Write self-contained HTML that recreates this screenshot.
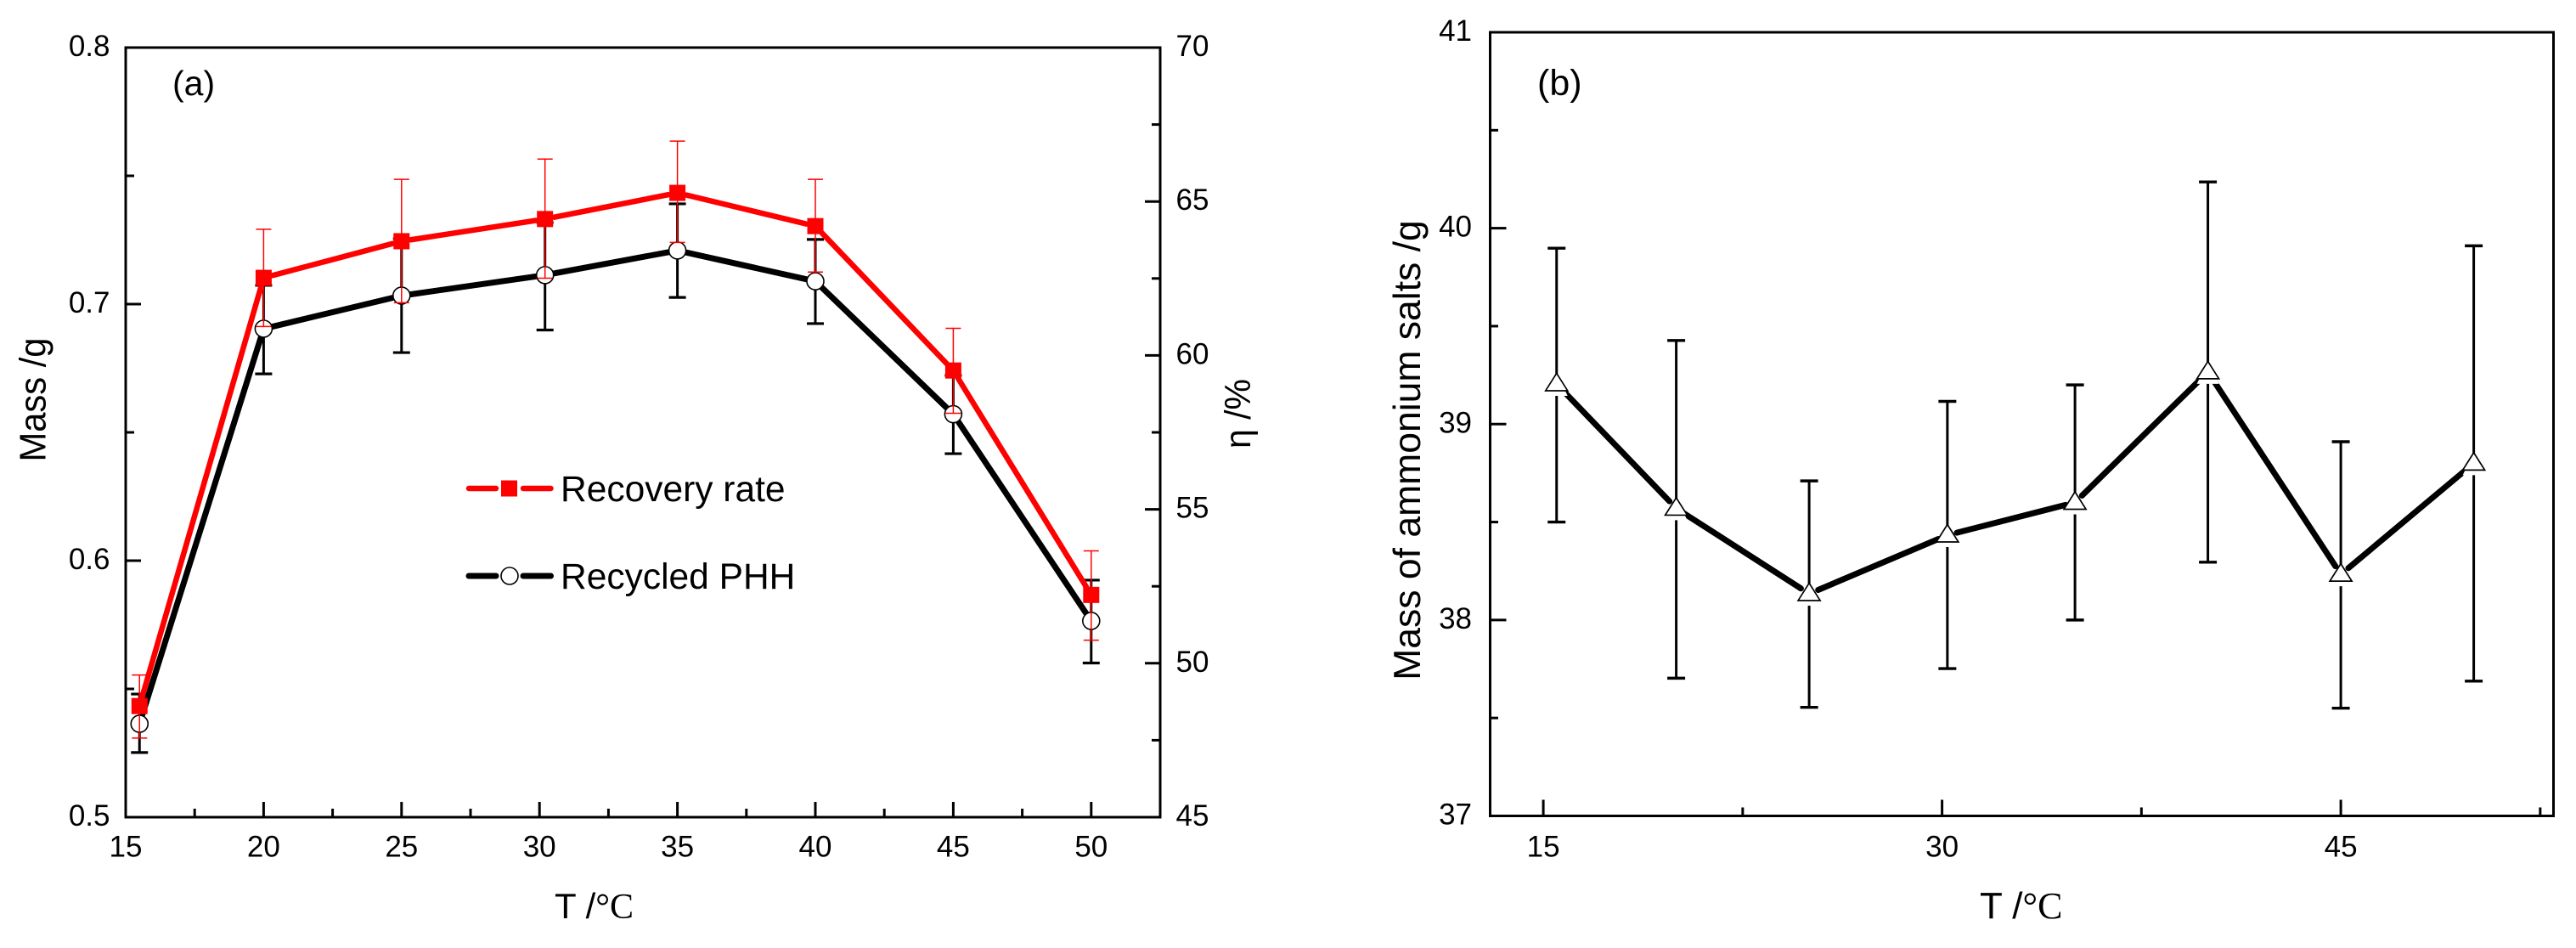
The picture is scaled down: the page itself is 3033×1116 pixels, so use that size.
<!DOCTYPE html>
<html lang="en">
<head>
<meta charset="utf-8">
<title>Recovery rate, recycled PHH and ammonium salts vs temperature</title>
<style>
  html, body { margin: 0; padding: 0; background: #fff; }
  svg { display: block; font-family: "Liberation Sans", sans-serif; fill: #000; }
</style>
</head>
<body>
<svg id="figure" xmlns="http://www.w3.org/2000/svg" width="3033" height="1116" viewBox="0 0 3033 1116">
  <rect x="0" y="0" width="3033" height="1116" fill="#fff"/>

  <g id="panel-a"></g>
  <g id="panel-b"></g>

  <text x="203" y="112" font-size="41">(a)</text>
  <text transform="translate(53.5 470.5) rotate(-90)" text-anchor="middle" font-size="44" textLength="146" lengthAdjust="spacingAndGlyphs">Mass /g</text>
  <text transform="translate(1472 487) rotate(-90)" text-anchor="middle" font-size="43" textLength="82" lengthAdjust="spacingAndGlyphs">η /%</text>
  <text x="653" y="1081" font-size="42">T /<tspan font-family="'Liberation Serif', serif">°C</tspan></text>

  <g>
    <g>
      <line x1="552" y1="575" x2="584" y2="575" stroke="#f00" stroke-width="6.5" stroke-linecap="round"/>
      <line x1="616" y1="575" x2="648.5" y2="575" stroke="#f00" stroke-width="6.5" stroke-linecap="round"/>
      <rect x="590" y="565.5" width="19" height="19" fill="#f00"/>
      <text x="660" y="590" font-size="42.5">Recovery rate</text>
    </g>
    <g>
      <line x1="552" y1="678" x2="584" y2="678" stroke="#000" stroke-width="7" stroke-linecap="round"/>
      <line x1="616" y1="678" x2="648.5" y2="678" stroke="#000" stroke-width="7" stroke-linecap="round"/>
      <circle cx="600" cy="678" r="10" fill="#fff" stroke="#000" stroke-width="1.6"/>
      <text x="660" y="693" font-size="42.5">Recycled PHH</text>
    </g>
  </g>

  <text x="1810" y="112" font-size="43">(b)</text>
  <text transform="translate(1672 530) rotate(-90)" text-anchor="middle" font-size="44.5">Mass of ammonium salts /g</text>
  <text x="2331" y="1081" font-size="44">T /<tspan font-family="'Liberation Serif', serif">°C</tspan></text>
</svg>

<script>
// ---- Panel (a) data ----
const aTemps = [15.5, 20, 25, 30.2, 35, 40, 45, 50];
const recoveryRate = [48.61, 62.52, 63.71, 64.43, 65.28, 64.2, 59.51, 52.22];
const recoveryUpper = [49.62, 64.1, 65.72, 66.38, 66.96, 65.72, 60.88, 53.65];
const recoveryLower = [47.57, 60.94, 61.71, 62.51, 63.67, 62.71, 58.12, 50.75];
const recycledMass = [0.5364, 0.6904, 0.7033, 0.7113, 0.7209, 0.7089, 0.6571, 0.5765];
const recycledUpper = [0.548, 0.7073, 0.7255, 0.7318, 0.7391, 0.7252, 0.6722, 0.5924];
const recycledLower = [0.5252, 0.6728, 0.6811, 0.6899, 0.7026, 0.6924, 0.6417, 0.5601];
const aXMajor = [15, 20, 25, 30, 35, 40, 45, 50];
const aXMajorLabels = ['15', '20', '25', '30', '35', '40', '45', '50'];
const aXMinor = [17.5, 22.5, 27.5, 32.5, 37.5, 42.5, 47.5];
const aMassMajor = [0.5, 0.6, 0.7, 0.8];
const aMassLabels = ['0.5', '0.6', '0.7', '0.8'];
const aMassMinor = [0.55, 0.65, 0.75];
const aEtaMajor = [45, 50, 55, 60, 65, 70];
const aEtaLabels = ['45', '50', '55', '60', '65', '70'];
const aEtaMinor = [47.5, 52.5, 57.5, 62.5, 67.5];

// ---- Panel (b) data ----
const bTemps = [15.5, 20, 25, 30.2, 35, 40, 45, 50];
const ammoniumMass = [39.205, 38.57, 38.134, 38.433, 38.6, 39.266, 38.233, 38.8];
const ammoniumUpper = [39.898, 39.427, 38.71, 39.116, 39.2, 40.236, 38.91, 39.91];
const ammoniumLower = [38.5, 37.703, 37.554, 37.752, 38.0, 38.295, 37.55, 37.688];
const bXMajor = [15, 30, 45];
const bXMajorLabels = ['15', '30', '45'];
const bXMinor = [22.5, 37.5, 52.5];
const bYMajor = [37, 38, 39, 40, 41];
const bYLabels = ['37', '38', '39', '40', '41'];
const bYMinor = [37.5, 38.5, 39.5, 40.5];

// ---- Axis functions ----
const aBox = { left: 148, right: 1366, top: 56, bottom: 962 };
const bBox = { left: 1754.5, right: 3006.5, top: 38, bottom: 960.5 };
function xA(v) { return aBox.left + (v - 15) * (aBox.right - aBox.left) / 37.5; }
function yMass(v) { return aBox.bottom - (v - 0.5) * (aBox.bottom - aBox.top) / 0.3; }
function yEta(v) { return aBox.bottom - (v - 45) * (aBox.bottom - aBox.top) / 25; }
function xB(v) { return bBox.left + (v - 13) * (bBox.right - bBox.left) / 40; }
function yB(v) { return bBox.bottom - (v - 37) * (bBox.bottom - bBox.top) / 4; }

const NS = 'http://www.w3.org/2000/svg';
function shape(parent, tag, attrs, text) {
  const node = document.createElementNS(NS, tag);
  for (const key in attrs) node.setAttribute(key, attrs[key]);
  if (text !== undefined) node.textContent = text;
  parent.appendChild(node);
  return node;
}
function trimmed(x1, y1, x2, y2, gap) {
  const d = Math.hypot(x2 - x1, y2 - y1);
  const ux = (x2 - x1) / d, uy = (y2 - y1) / d;
  return { x1: x1 + ux * gap, y1: y1 + uy * gap, x2: x2 - ux * gap, y2: y2 - uy * gap };
}

function drawFrame(parent, box, prefix) {
  const el = shape(parent, 'rect', { x: box.left, y: box.top, width: box.right - box.left, height: box.bottom - box.top, fill: 'none', stroke: '#000', 'stroke-width': 3 });
  
  
}
function drawXTicks(parent, box, scale, values, len, prefix) {
  values.forEach(function (v) {
    const el = shape(parent, 'line', { x1: scale(v), x2: scale(v), y1: box.bottom, y2: box.bottom - len, stroke: '#000', 'stroke-width': 3 });
    
    
  });
}
function drawXLabels(parent, scale, values, labels, prefix) {
  values.forEach(function (v, i) {
    const el = shape(parent, 'text', { x: scale(v), y: 1008.5, 'text-anchor': 'middle', 'font-size': 35 }, labels[i]);
    
    
  });
}
function drawYTicks(parent, x, dir, scale, values, len, prefix) {
  values.forEach(function (v) {
    const el = shape(parent, 'line', { x1: x, x2: x + dir * len, y1: scale(v), y2: scale(v), stroke: '#000', 'stroke-width': 3 });
    
    
  });
}
function drawYLabels(parent, x, anchor, scale, values, labels, prefix) {
  values.forEach(function (v, i) {
    const el = shape(parent, 'text', { x: x, y: scale(v) + 10, 'text-anchor': anchor, 'font-size': 35 }, labels[i]);
    
    
  });
}
function drawErrors(parent, xs, upper, lower, sx, sy, color, width, capHalf, capWidth, prefix) {
  xs.forEach(function (t, i) {
    const x = sx(t), yu = sy(upper[i]), yl = sy(lower[i]);
    const stem = shape(parent, 'line', { x1: x, x2: x, y1: yu, y2: yl, stroke: color, 'stroke-width': width });
    
    
    const top = shape(parent, 'line', { x1: x - capHalf, x2: x + capHalf, y1: yu, y2: yu, stroke: color, 'stroke-width': capWidth });
    
    
    const bottom = shape(parent, 'line', { x1: x - capHalf, x2: x + capHalf, y1: yl, y2: yl, stroke: color, 'stroke-width': capWidth });
    
    
  });
}
function drawSegments(parent, xs, values, sx, sy, color, width, gap, prefix) {
  for (let i = 0; i < xs.length - 1; i++) {
    const s = trimmed(sx(xs[i]), sy(values[i]), sx(xs[i + 1]), sy(values[i + 1]), gap);
    const el = shape(parent, 'line', { x1: s.x1, y1: s.y1, x2: s.x2, y2: s.y2, stroke: color, 'stroke-width': width, 'stroke-linecap': 'round' });
    
    
  }
}

// ---- Panel (a) ----
const panelA = document.getElementById('panel-a');
drawFrame(panelA, aBox, 'panel-a');
drawXTicks(panelA, aBox, xA, aXMajor, 18, 'panel-a-major');
drawXTicks(panelA, aBox, xA, aXMinor, 10, 'panel-a-minor');
drawXLabels(panelA, xA, aXMajor, aXMajorLabels, 'panel-a');
drawYTicks(panelA, aBox.left, 1, yMass, aMassMajor, 18, 'panel-a-left-major');
drawYTicks(panelA, aBox.left, 1, yMass, aMassMinor, 10, 'panel-a-left-minor');
drawYLabels(panelA, 129.5, 'end', yMass, aMassMajor, aMassLabels, 'panel-a-left');
drawYTicks(panelA, aBox.right, -1, yEta, aEtaMajor, 18, 'panel-a-right-major');
drawYTicks(panelA, aBox.right, -1, yEta, aEtaMinor, 10, 'panel-a-right-minor');
drawYLabels(panelA, 1384.5, 'start', yEta, aEtaMajor, aEtaLabels, 'panel-a-right');

drawErrors(panelA, aTemps, recycledUpper, recycledLower, xA, yMass, '#000', 3, 10, 3.2, 'recycled-phh');
drawSegments(panelA, aTemps, recycledMass, xA, yMass, '#000', 7, 11, 'recycled-phh');
aTemps.forEach(function (t, i) {
  const el = shape(panelA, 'circle', { cx: xA(t), cy: yMass(recycledMass[i]), r: 10, fill: '#fff', stroke: '#000', 'stroke-width': 1.6 });
  
  
});
drawErrors(panelA, aTemps, recoveryUpper, recoveryLower, xA, yEta, '#f00', 1.5, 9, 1.5, 'recovery-rate');
drawSegments(panelA, aTemps, recoveryRate, xA, yEta, '#f00', 6.5, 11, 'recovery-rate');
aTemps.forEach(function (t, i) {
  const el = shape(panelA, 'rect', { x: xA(t) - 9.5, y: yEta(recoveryRate[i]) - 9.5, width: 19, height: 19, fill: '#f00' });
  
  
});

// ---- Panel (b) ----
const panelB = document.getElementById('panel-b');
drawFrame(panelB, bBox, 'panel-b');
drawXTicks(panelB, bBox, xB, bXMajor, 19, 'panel-b-major');
drawXTicks(panelB, bBox, xB, bXMinor, 10, 'panel-b-minor');
drawXLabels(panelB, xB, bXMajor, bXMajorLabels, 'panel-b');
drawYTicks(panelB, bBox.left, 1, yB, bYMajor, 19, 'panel-b-major');
drawYTicks(panelB, bBox.left, 1, yB, bYMinor, 9.5, 'panel-b-minor');
drawYLabels(panelB, 1733, 'end', yB, bYMajor, bYLabels, 'panel-b');

drawErrors(panelB, bTemps, ammoniumUpper, ammoniumLower, xB, yB, '#000', 3, 10.5, 3.4, 'ammonium-salts');
drawSegments(panelB, bTemps, ammoniumMass, xB, yB, '#000', 7, 11.5, 'ammonium-salts');
bTemps.forEach(function (t, i) {
  const x = xB(t), y = yB(ammoniumMass[i]);
  const pts = (x - 13) + ',' + (y + 8) + ' ' + (x + 13) + ',' + (y + 8) + ' ' + x + ',' + (y - 12.5);
  const halo = shape(panelB, 'polygon', { points: (x - 13) + ',' + (y + 14) + ' ' + (x + 13) + ',' + (y + 14) + ' ' + x + ',' + (y - 12.5), fill: '#fff' });
  
  
  const el = shape(panelB, 'polygon', { points: pts, fill: '#fff', stroke: '#000', 'stroke-width': 1.7 });
  
  
});
</script>
</body>
</html>
